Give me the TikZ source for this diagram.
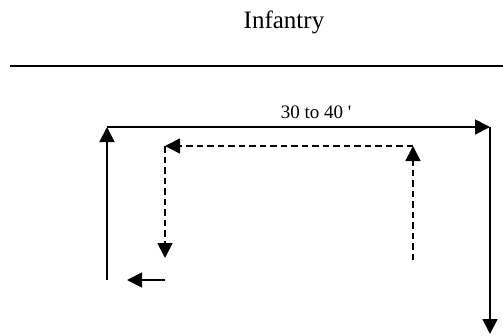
\documentclass[tikz,border=0pt]{standalone}
\usepackage{fontspec}
\setmainfont{Liberation Serif}
\usetikzlibrary{arrows.meta}

\begin{document}
\begin{tikzpicture}[x=1pt, y=-1pt,
            route/.style={line width=1.8pt, -{Triangle[length=15pt, width=15pt]}},
            back/.style={line width=1.8pt, dash pattern=on 6.5pt off 4pt,
            -{Triangle[length=15pt, width=15pt]}},
            title/.style={font=\fontsize{25}{28}\selectfont, inner sep=0pt, anchor=base},
            dist/.style={font=\fontsize{19}{22}\selectfont, inner sep=0pt, anchor=base},
        ]
            \useasboundingbox (0,0) rectangle (503,335);

            %% Titel und Linie
            \node[title] (head) at (284,28) {Infantry};
            \coordinate (ruleL) at (10,66);
            \coordinate (ruleR) at (503,66);
            \draw[line width=1.8pt] (ruleL) -- (ruleR);

            %% Vormarsch
            \coordinate (sw) at (107,280);
            \coordinate (nw) at (107,127);
            \coordinate (ne) at (490,127);
            \coordinate (se) at (490,334);
            \draw[route] (sw) -- (nw);
            \draw[route] (nw) -- (ne);
            \draw[route] (ne) -- (se);
            \node[dist] (len) at (316,118) {30 to 40 \textquotesingle};

            %% Rueckweg
            \coordinate (bse) at (413,260);
            \coordinate (bne) at (413,146);
            \coordinate (bnw) at (165,146);
            \coordinate (bsw) at (165,258);
            \draw[back] (bse) -- (bne);
            \draw[back] (bne) -- (bnw);
            \draw[back] (bnw) -- (bsw);

            %% kurzer Pfeil
            \coordinate (ra) at (165,280);
            \coordinate (rb) at (127,280);
            \draw[route] (ra) -- (rb);

        \end{tikzpicture}
\end{document}
